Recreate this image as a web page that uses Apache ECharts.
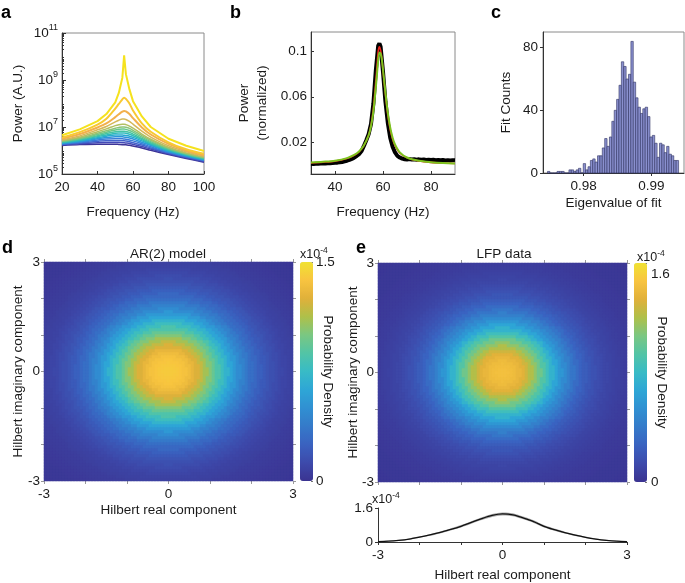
<!DOCTYPE html>
<html><head><meta charset="utf-8">
<script src="https://cdn.jsdelivr.net/npm/echarts@6/dist/echarts.min.js"></script>
<style>html,body{margin:0;padding:0;background:#fff}#c{width:685px;height:583px}</style>
</head><body><div id="c"></div><script>
// ---------- Panel a: AR(2) spectra (log10 power) ----------
const freqA = [20,30,40,45,50,52,54,55,56,58,60,65,70,80,90,100];
const powerLog10A = [
 [6.65,6.90,7.25,7.55,8.05,8.45,9.10,10.05,9.25,8.60,8.10,7.45,7.00,6.50,6.20,5.98],
 [6.55,6.78,7.10,7.35,7.78,7.98,8.18,8.25,8.20,8.00,7.70,7.15,6.80,6.35,6.05,5.86],
 [6.50,6.70,6.98,7.15,7.42,7.54,7.65,7.68,7.66,7.55,7.38,6.98,6.68,6.28,6.00,5.80],
 [6.45,6.62,6.88,7.02,7.22,7.29,7.34,7.34,7.32,7.24,7.12,6.82,6.57,6.20,5.95,5.76],
 [6.42,6.57,6.80,6.92,7.06,7.10,7.12,7.12,7.10,7.04,6.95,6.70,6.48,6.14,5.90,5.72],
 [6.40,6.53,6.73,6.84,6.95,6.98,7.00,7.00,6.99,6.94,6.86,6.63,6.43,6.10,5.87,5.70],
 [6.38,6.50,6.68,6.78,6.87,6.90,6.91,6.91,6.90,6.85,6.78,6.57,6.38,6.07,5.85,5.68],
 [6.36,6.47,6.63,6.72,6.80,6.82,6.82,6.82,6.81,6.77,6.70,6.51,6.33,6.04,5.83,5.66],
 [6.34,6.44,6.59,6.66,6.73,6.74,6.74,6.74,6.73,6.69,6.63,6.46,6.29,6.01,5.81,5.64],
 [6.32,6.41,6.54,6.61,6.66,6.66,6.66,6.65,6.64,6.61,6.56,6.41,6.25,5.98,5.79,5.62],
 [6.30,6.38,6.50,6.55,6.58,6.58,6.58,6.57,6.56,6.53,6.49,6.35,6.21,5.95,5.77,5.60],
 [6.28,6.35,6.45,6.49,6.50,6.50,6.50,6.49,6.48,6.45,6.41,6.29,6.16,5.92,5.74,5.58],
 [6.26,6.32,6.39,6.42,6.42,6.42,6.41,6.41,6.40,6.37,6.33,6.23,6.11,5.89,5.72,5.56],
 [6.24,6.29,6.33,6.34,6.34,6.34,6.33,6.33,6.32,6.30,6.26,6.17,6.06,5.86,5.69,5.53],
 [6.21,6.25,6.27,6.27,6.27,6.26,6.25,6.25,6.24,6.22,6.19,6.11,6.01,5.83,5.66,5.50]
];
const yTicksA = [5,7,9,11];
const xTicksA = [20,40,60,80,100];

// ---------- Panel b: normalized spectra ----------
const freqB = [30,31,32,33,34,35,36,37,38,39,40,41,42,43,44,45,46,47,48,49,50,51,52,53,54,55,56,57,58,58.5,59,60,61,62,63,64,65,66,67,68,69,70,71,72,73,74,75,76,77,78,79,80,81,82,83,84,85,86,87,88,89,90];
const dataB = [0.0010,0.0009,0.0011,0.0010,0.0012,0.0012,0.0013,0.0014,0.0015,0.0016,0.0018,0.0020,0.0023,0.0026,0.0031,0.0037,0.0044,0.0053,0.0064,0.0078,0.0095,0.0120,0.0165,0.0215,0.0270,0.0360,0.0540,0.0830,0.1050,0.1070,0.1040,0.0820,0.0560,0.0370,0.0240,0.0160,0.0110,0.0080,0.0065,0.0055,0.0050,0.0048,0.0052,0.0047,0.0050,0.0046,0.0049,0.0045,0.0047,0.0044,0.0046,0.0043,0.0045,0.0042,0.0044,0.0041,0.0043,0.0040,0.0042,0.0039,0.0041,0.0040];
const freqFitB = [30,35,40,45,48,50,52,54,55,56,57,57.5,58,58.5,59,59.5,60,61,62,63,64,65,67,70,75,80,85,90];
const fitRedB = [0.0018,0.0024,0.0033,0.0056,0.0084,0.0114,0.0168,0.0262,0.0350,0.0500,0.0740,0.0870,0.1000,0.1040,0.1010,0.0940,0.0830,0.0620,0.0440,0.0310,0.0225,0.0170,0.0105,0.0062,0.0034,0.0022,0.0016,0.0012];
const fitGreenB = [0.0022,0.0028,0.0037,0.0060,0.0088,0.0118,0.0170,0.0260,0.0340,0.0470,0.0680,0.0800,0.0920,0.0990,0.0980,0.0930,0.0840,0.0640,0.0460,0.0330,0.0240,0.0180,0.0110,0.0065,0.0036,0.0024,0.0017,0.0013];
const yTicksB = [0.02,0.06,0.1];
const xTicksB = [40,60,80];

// ---------- Panel c: eigenvalue histogram ----------
const binStartC = 0.97466, binWidthC = 0.0003516;
const countsC = [1,0,0,0,1,1,1,0,0,2, 2,1,2,3,0,6,2,4,8,9, 7,11,11,16,22,17,23,33,40,47, 56,71,68,60,63,84,58,48,42,38, 41,42,36,23,24,19,10,19,18,13, 17,12,11,8,8];
const yTicksC = [0,40,80];
const xTicksC = [0.98,0.99];

// ---------- Panels d/e: radial density profiles (x1e-4), radius step 0.1 ----------
const radiusStep = 0.1;
const profileD = [1.40,1.40,1.39,1.38,1.36,1.33,1.29,1.24,1.18,1.10,1.02,0.94,0.86,0.78,0.70,0.62,0.55,0.48,0.42,0.37,0.32,0.28,0.24,0.21,0.18,0.155,0.135,0.115,0.10,0.088,0.077,0.068,0.060,0.053,0.047,0.042,0.038,0.034,0.031,0.028,0.026,0.024,0.022,0.020];
const profileE = [1.52,1.52,1.51,1.49,1.46,1.42,1.36,1.28,1.19,1.09,0.99,0.89,0.79,0.70,0.61,0.53,0.46,0.40,0.34,0.29,0.25,0.215,0.185,0.16,0.14,0.12,0.105,0.092,0.081,0.072,0.064,0.057,0.051,0.046,0.042,0.038,0.035,0.032,0.030,0.028,0.026,0.024,0.023,0.022];
const cbarMaxD = 1.5, cbarMaxE = 1.69;
const cbarLabelsD = [0,1.5], cbarLabelsE = [0,1.6];
const hilbertTicks = [-3,0,3];

// ---------- Panel e bottom: density slice ----------
const sliceX = [-3,-2.75,-2.5,-2.25,-2,-1.75,-1.5,-1.25,-1,-0.75,-0.5,-0.25,0,0.25,0.5,0.75,1,1.25,1.5,1.75,2,2.25,2.5,2.75,3];
const sliceMean = [0.02,0.04,0.08,0.14,0.23,0.33,0.45,0.59,0.74,0.92,1.10,1.25,1.32,1.28,1.13,0.96,0.74,0.58,0.44,0.32,0.22,0.14,0.08,0.04,0.02];
const sliceErr = [0.02,0.02,0.025,0.03,0.035,0.04,0.045,0.05,0.055,0.06,0.065,0.07,0.07,0.07,0.065,0.06,0.055,0.05,0.045,0.04,0.035,0.03,0.025,0.02,0.02];
const sliceTicksY = [0,1.6];

// ---------- styles ----------
const FONT = '"Liberation Sans", Arial, sans-serif';
const TXT = '#1a1a1a';
const curveColorsA = ['#f5e21e','#f8c932','#f2b04c','#d4b85a','#b2bf62','#8cc477','#66c78c','#45c3a3','#2ebabb','#26a9d0','#2d93da','#3a7bd8','#4262cc','#4449b6','#3d3497'];
const parula = ['#3b3391','#3d4aab','#3a62c0','#357ac9','#3090d2','#2ea6d6','#38bbc6','#52c4a6','#7ac782','#aec04a','#e0b03a','#f8c440','#f0e232'];

function lab(size){return {fontSize:size||13.5,color:TXT,fontFamily:FONT};}
function boxGrid(l,t,w,h){return {left:l,top:t,width:w,height:h,show:true,borderColor:'#8a8a8a',borderWidth:1,backgroundColor:'transparent'};}

const minorTicksA = [];
for (let e=5;e<11;e++) for (let m=2;m<10;m++) minorTicksA.push(e+Math.log10(m));

// heatmap tables (integer-pixel cells: 83 x 73)
const NX = 83, NY = 73;
function heatTable(profile){
  const out=[];
  for(let i=0;i<NX;i++) for(let j=0;j<NY;j++){
    const x=-3+(i+0.5)*6/NX, y=-3+(j+0.5)*6/NY;
    const k=Math.min(Math.round(Math.sqrt(x*x+y*y)/radiusStep), profile.length-1);
    out.push([i,j,profile[k]]);
  }
  return out;
}
const catsX = Array.from({length:NX},(_,i)=>i);
const catsY = Array.from({length:NY},(_,i)=>i);

const grid = [
  boxGrid(62,33,142,141),   //0 a
  boxGrid(311,32,144,142),  //1 b
  boxGrid(543,32,141,141),  //2 c
  {left:44,top:262,width:249,height:219}, //3 d heat
  {left:44,top:262,width:249,height:219}, //4 d axes
  {left:300,top:262,width:13,height:219}, //5 d cbar
  {left:378,top:263,width:249,height:219}, //6 e heat
  {left:378,top:263,width:249,height:219}, //7 e axes
  {left:634,top:263,width:13,height:219}, //8 e cbar
  {left:378,top:508,width:249,height:34}   //9 f
];

const axLine = {show:true,onZero:false,lineStyle:{color:'#333',width:1}};
const noLine = {show:false,onZero:false};
const heatTick = {show:true,inside:false,length:3,lineStyle:{color:'#999'}};

const xAxis = [
  {gridIndex:0,type:'value',min:20,max:100,axisLine:axLine,splitLine:{show:false},
   axisTick:{show:true,inside:true,length:3,customValues:xTicksA,lineStyle:{color:'#333'}},
   axisLabel:Object.assign(lab(),{customValues:xTicksA,margin:6}),
   name:'Frequency (Hz)',nameLocation:'middle',nameGap:31,nameTextStyle:lab()},
  {gridIndex:1,type:'value',min:30,max:90,axisLine:axLine,splitLine:{show:false},
   axisTick:{show:true,inside:true,length:3,customValues:xTicksB,lineStyle:{color:'#333'}},
   axisLabel:Object.assign(lab(),{customValues:xTicksB,margin:6}),
   name:'Frequency (Hz)',nameLocation:'middle',nameGap:31,nameTextStyle:lab()},
  {gridIndex:2,type:'value',min:0.974,max:0.9948,axisLine:axLine,splitLine:{show:false},
   axisTick:{show:true,inside:false,length:3,customValues:xTicksC,lineStyle:{color:'#333'}},
   axisLabel:Object.assign(lab(),{customValues:xTicksC,margin:6}),
   name:'Eigenvalue of fit',nameLocation:'middle',nameGap:23,nameTextStyle:lab()},
  {gridIndex:3,type:'category',data:catsX,show:false},
  {gridIndex:4,type:'value',min:-3,max:3,interval:1,axisLine:noLine,splitLine:{show:false},
   axisTick:heatTick,axisLabel:Object.assign(lab(),{customValues:hilbertTicks,margin:6}),
   name:'Hilbert real component',nameLocation:'middle',nameGap:22,nameMoveOverlap:false,nameTextStyle:lab()},
  {gridIndex:4,type:'value',position:'top',min:-3,max:3,interval:1,axisLine:noLine,splitLine:{show:false},
   axisTick:heatTick,axisLabel:{show:false}},
  {gridIndex:5,type:'value',min:0,max:1,show:false},
  {gridIndex:6,type:'category',data:catsX,show:false},
  {gridIndex:7,type:'value',min:-3,max:3,interval:1,axisLine:noLine,splitLine:{show:false},
   axisTick:heatTick,axisLabel:{show:false}},
  {gridIndex:7,type:'value',position:'top',min:-3,max:3,interval:1,axisLine:noLine,splitLine:{show:false},
   axisTick:heatTick,axisLabel:{show:false}},
  {gridIndex:8,type:'value',min:0,max:1,show:false},
  {gridIndex:9,type:'value',min:-3,max:3,interval:1,axisLine:axLine,splitLine:{show:false},
   axisTick:{show:true,inside:false,length:3,lineStyle:{color:'#333'}},
   axisLabel:Object.assign(lab(),{customValues:hilbertTicks,margin:6}),
   name:'Hilbert real component',nameLocation:'middle',nameGap:26,nameMoveOverlap:false,nameTextStyle:lab()}
];

const yAxis = [
  {gridIndex:0,type:'value',min:5,max:11,axisLine:axLine,splitLine:{show:false},
   axisTick:{show:true,inside:true,length:4,customValues:yTicksA,lineStyle:{color:'#333'}},
   axisLabel:{customValues:yTicksA,margin:4,formatter:v=>'{b|10}{s|'+v+'}',
     rich:{b:{fontSize:13.5,color:TXT,fontFamily:FONT},s:{fontSize:9,color:TXT,fontFamily:FONT,padding:[0,0,10,0]}}},
   name:'Power (A.U.)',nameLocation:'middle',nameGap:37,nameMoveOverlap:false,nameTextStyle:lab()},
  {gridIndex:0,type:'value',min:5,max:11,position:'left',axisLine:noLine,splitLine:{show:false},
   axisTick:{show:true,inside:true,length:2,customValues:minorTicksA,lineStyle:{color:'#333'}},axisLabel:{show:false}},
  {gridIndex:1,type:'value',min:-0.008,max:0.117,axisLine:axLine,splitLine:{show:false},
   axisTick:{show:true,inside:true,length:3,customValues:yTicksB,lineStyle:{color:'#333'}},
   axisLabel:Object.assign(lab(),{customValues:yTicksB,margin:4}),
   name:'Power\n(normalized)',nameLocation:'middle',nameGap:40,nameMoveOverlap:false,nameTextStyle:Object.assign(lab(),{lineHeight:18})},
  {gridIndex:2,type:'value',min:0,max:90,axisLine:axLine,splitLine:{show:false},
   axisTick:{show:true,inside:false,length:3,customValues:yTicksC,lineStyle:{color:'#333'}},
   axisLabel:Object.assign(lab(),{customValues:yTicksC,margin:5}),
   name:'Fit Counts',nameLocation:'middle',nameGap:30,nameMoveOverlap:false,nameTextStyle:lab()},
  {gridIndex:3,type:'category',data:catsY,show:false},
  {gridIndex:4,type:'value',min:-3,max:3,interval:1,axisLine:noLine,splitLine:{show:false},
   axisTick:heatTick,axisLabel:Object.assign(lab(),{customValues:hilbertTicks,margin:4}),
   name:'Hilbert imaginary component',nameLocation:'middle',nameGap:19,nameMoveOverlap:false,nameTextStyle:lab()},
  {gridIndex:4,type:'value',position:'right',min:-3,max:3,interval:1,axisLine:noLine,splitLine:{show:false},
   axisTick:heatTick,axisLabel:{show:false}},
  {gridIndex:5,type:'value',position:'right',min:0,max:cbarMaxD,interval:0.25,axisLine:noLine,splitLine:{show:false},
   axisTick:{show:true,inside:true,length:2,lineStyle:{color:'#777'}},
   axisLabel:Object.assign(lab(),{customValues:cbarLabelsD,margin:3}),
   name:'Probability Density',nameLocation:'middle',nameRotate:-90,nameGap:8,nameMoveOverlap:false,nameTextStyle:lab()},
  {gridIndex:6,type:'category',data:catsY,show:false},
  {gridIndex:7,type:'value',min:-3,max:3,interval:1,axisLine:noLine,splitLine:{show:false},
   axisTick:heatTick,axisLabel:Object.assign(lab(),{customValues:hilbertTicks,margin:4}),
   name:'Hilbert imaginary component',nameLocation:'middle',nameGap:18,nameMoveOverlap:false,nameTextStyle:lab()},
  {gridIndex:7,type:'value',position:'right',min:-3,max:3,interval:1,axisLine:noLine,splitLine:{show:false},
   axisTick:heatTick,axisLabel:{show:false}},
  {gridIndex:8,type:'value',position:'right',min:0,max:cbarMaxE,interval:0.2,axisLine:noLine,splitLine:{show:false},
   axisTick:{show:true,inside:true,length:2,lineStyle:{color:'#777'}},
   axisLabel:Object.assign(lab(),{customValues:cbarLabelsE,margin:4}),
   name:'Probability Density',nameLocation:'middle',nameRotate:-90,nameGap:8,nameMoveOverlap:false,nameTextStyle:lab()},
  {gridIndex:9,type:'value',min:0,max:1.6,axisLine:axLine,splitLine:{show:false},
   axisTick:{show:true,inside:false,length:3,customValues:sliceTicksY,lineStyle:{color:'#333'}},
   axisLabel:Object.assign(lab(),{customValues:sliceTicksY,margin:5})}
];

const series = [];
// panel a (purple drawn first, yellow last)
for (let k=powerLog10A.length-1;k>=0;k--){
  series.push({type:'line',xAxisIndex:0,yAxisIndex:0,symbol:'none',smooth:k===0?false:0.3,
    lineStyle:{color:curveColorsA[k],width:k<3?2:1.5},
    data:freqA.map((f,i)=>[f,powerLog10A[k][i]])});
}
series.push({type:'line',xAxisIndex:0,yAxisIndex:1,data:[]});
// panel b
series.push({type:'line',xAxisIndex:1,yAxisIndex:2,symbol:'none',lineStyle:{color:'#000',width:4},data:freqB.map((f,i)=>[f,dataB[i]])});
series.push({type:'line',xAxisIndex:1,yAxisIndex:2,symbol:'none',smooth:0.3,lineStyle:{color:'#e8251c',width:1.6},data:freqFitB.map((f,i)=>[f,fitRedB[i]])});
series.push({type:'line',xAxisIndex:1,yAxisIndex:2,symbol:'none',smooth:0.3,lineStyle:{color:'#7cc21e',width:2},data:freqFitB.map((f,i)=>[f,fitGreenB[i]])});
// panel c
series.push({type:'custom',xAxisIndex:2,yAxisIndex:3,encode:{x:[0,1],y:2},
  data:countsC.map((c,i)=>[binStartC+i*binWidthC,binStartC+(i+1)*binWidthC,c]),
  renderItem:function(params,api){
    const p0=api.coord([api.value(0),api.value(2)]);const p1=api.coord([api.value(1),0]);
    return {type:'rect',shape:{x:p0[0],y:p0[1],width:p1[0]-p0[0],height:p1[1]-p0[1]},
      style:{fill:'#8a90cf',stroke:'#2d3060',lineWidth:0.6}};
  }});
// panel d
const idxD = series.length;
series.push({type:'heatmap',xAxisIndex:3,yAxisIndex:4,progressive:0,data:heatTable(profileD),emphasis:{disabled:true}});
series.push({type:'line',xAxisIndex:4,yAxisIndex:5,data:[]});
series.push({type:'line',xAxisIndex:5,yAxisIndex:6,data:[]});
series.push({type:'line',xAxisIndex:6,yAxisIndex:7,data:[]});
// panel e
const idxE = series.length;
series.push({type:'heatmap',xAxisIndex:7,yAxisIndex:8,progressive:0,data:heatTable(profileE),emphasis:{disabled:true}});
series.push({type:'line',xAxisIndex:8,yAxisIndex:9,data:[]});
series.push({type:'line',xAxisIndex:9,yAxisIndex:10,data:[]});
series.push({type:'line',xAxisIndex:10,yAxisIndex:11,data:[]});
// panel e bottom slice: error band (polygon) + mean line
series.push({type:'custom',xAxisIndex:11,yAxisIndex:12,encode:{x:0,y:[1,2]},
  data:sliceX.map((x,i)=>[x,sliceMean[i]-sliceErr[i],sliceMean[i]+sliceErr[i]]),
  renderItem:function(params,api){
    if(params.dataIndex!==0) return null;
    const up=[],lo=[];
    for(let i=0;i<sliceX.length;i++){
      up.push(api.coord([sliceX[i],sliceMean[i]+sliceErr[i]]));
      lo.push(api.coord([sliceX[i],sliceMean[i]-sliceErr[i]]));
    }
    return {type:'polygon',shape:{points:up.concat(lo.reverse()),smooth:0.3},style:{fill:'#a8a8a8'}};
  }});
series.push({type:'line',xAxisIndex:11,yAxisIndex:12,symbol:'none',smooth:0.3,lineStyle:{color:'#111',width:1.3},data:sliceX.map((x,i)=>[x,sliceMean[i]])});

function txt(x,y,t,opt){return {type:'text',x:x,y:y,style:Object.assign({text:t,fill:TXT,font:'13.5px '+FONT},opt||{})};}
function letter(x,y,t){return {type:'text',x:x,y:y,style:{text:t,fill:'#000',font:'bold 18px '+FONT,textVerticalAlign:'bottom'}};}
function x10(x,y){return {type:'text',x:x,y:y,style:{text:'{a|x10}{b|-4}',rich:{a:{fontSize:12.5,fontFamily:FONT,fill:TXT},b:{fontSize:8.5,fontFamily:FONT,fill:TXT,padding:[0,0,9,0]}}}};}

const option = {
  animation:false,
  textStyle:{fontFamily:FONT},
  grid:grid, xAxis:xAxis, yAxis:yAxis, series:series,
  visualMap:[
    {type:'continuous',seriesIndex:idxD,min:0,max:cbarMaxD,inRange:{color:parula},calculable:false,hoverLink:false,
     orient:'vertical',itemWidth:13,itemHeight:219,left:300,top:262,padding:0,text:null,show:true},
    {type:'continuous',seriesIndex:idxE,min:0,max:cbarMaxE,inRange:{color:parula},calculable:false,hoverLink:false,
     orient:'vertical',itemWidth:13,itemHeight:219,left:634,top:263,padding:0,text:null,show:true}
  ],
  graphic:[
    letter(1,22,'a'), letter(230,22,'b'), letter(491,22,'c'), letter(2,257,'d'), letter(356,257,'e'),
    txt(168,254,'AR(2) model',{textAlign:'center',textVerticalAlign:'middle'}),
    txt(504,254,'LFP data',{textAlign:'center',textVerticalAlign:'middle'}),
    x10(300,246), x10(637,249), x10(372,491)
  ]
};
const chart = echarts.init(document.getElementById('c'),null,{renderer:'canvas'});
chart.setOption(option);
</script></body></html>
